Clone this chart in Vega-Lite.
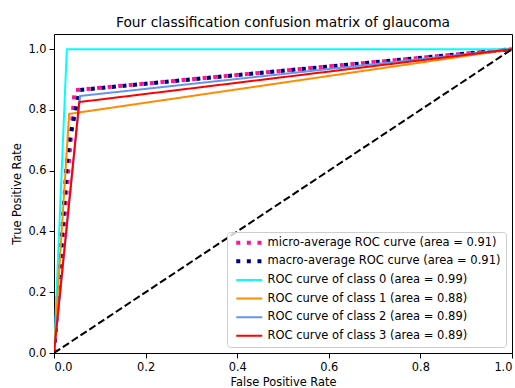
{
  "$schema": "https://vega.github.io/schema/vega-lite/v6.json",
  "width": 458,
  "height": 319,
  "autosize": "none",
  "padding": {"left": 54, "top": 34, "right": 3, "bottom": 35},
  "title": {"text": "Four classification confusion matrix of glaucoma", "fontSize": 13.8, "font": "DejaVu Sans", "fontWeight": "normal", "color": "black", "offset": 4, "anchor": "middle"},
  "config": {
    "view": {"stroke": "black", "strokeWidth": 1},
    "axis": {"domain": false, "grid": false, "tickColor": "black", "tickSize": 5, "tickWidth": 1, "labelFont": "DejaVu Sans", "labelFontSize": 11.4, "labelColor": "black", "labelPadding": 3, "titleFont": "DejaVu Sans", "titleFontSize": 11.4, "titleFontWeight": "normal", "titleColor": "black"},
    "legend": {"labelFont": "DejaVu Sans", "labelFontSize": 11.5, "labelColor": "black", "labelLimit": 400}
  },
  "data": {"values": [
    {"series": "micro-average ROC curve (area = 0.91)", "fpr": 0, "tpr": 0},
    {"series": "micro-average ROC curve (area = 0.91)", "fpr": 0.045, "tpr": 0.865},
    {"series": "micro-average ROC curve (area = 0.91)", "fpr": 1, "tpr": 1},
    {"series": "macro-average ROC curve (area = 0.91)", "fpr": 0, "tpr": 0},
    {"series": "macro-average ROC curve (area = 0.91)", "fpr": 0.028, "tpr": 0.626},
    {"series": "macro-average ROC curve (area = 0.91)", "fpr": 0.033, "tpr": 0.693},
    {"series": "macro-average ROC curve (area = 0.91)", "fpr": 0.055, "tpr": 0.859},
    {"series": "macro-average ROC curve (area = 0.91)", "fpr": 0.057, "tpr": 0.866},
    {"series": "macro-average ROC curve (area = 0.91)", "fpr": 1, "tpr": 1},
    {"series": "ROC curve of class 0 (area = 0.99)", "fpr": 0, "tpr": 0},
    {"series": "ROC curve of class 0 (area = 0.99)", "fpr": 0.028, "tpr": 1},
    {"series": "ROC curve of class 0 (area = 0.99)", "fpr": 1, "tpr": 1},
    {"series": "ROC curve of class 1 (area = 0.88)", "fpr": 0, "tpr": 0},
    {"series": "ROC curve of class 1 (area = 0.88)", "fpr": 0.033, "tpr": 0.787},
    {"series": "ROC curve of class 1 (area = 0.88)", "fpr": 1, "tpr": 1},
    {"series": "ROC curve of class 2 (area = 0.89)", "fpr": 0, "tpr": 0},
    {"series": "ROC curve of class 2 (area = 0.89)", "fpr": 0.057, "tpr": 0.846},
    {"series": "ROC curve of class 2 (area = 0.89)", "fpr": 1, "tpr": 1},
    {"series": "ROC curve of class 3 (area = 0.89)", "fpr": 0, "tpr": 0},
    {"series": "ROC curve of class 3 (area = 0.89)", "fpr": 0.055, "tpr": 0.826},
    {"series": "ROC curve of class 3 (area = 0.89)", "fpr": 1, "tpr": 1}
  ]},
  "encoding": {
    "x": {"field": "fpr", "type": "quantitative", "scale": {"domain": [0, 1], "nice": false}, "axis": {"values": [0, 0.2, 0.4, 0.6, 0.8, 1], "format": ".1f", "title": "False Positive Rate", "titlePadding": 4}},
    "y": {"field": "tpr", "type": "quantitative", "scale": {"domain": [0, 1.05], "nice": false}, "axis": {"values": [0, 0.2, 0.4, 0.6, 0.8, 1], "format": ".1f", "title": "True Positive Rate", "titlePadding": 5}}
  },
  "layer": [
    {
      "mark": {"type": "line", "strokeCap": "butt", "clip": true},
      "encoding": {
        "color": {"field": "series", "type": "nominal", "sort": null,
          "scale": {"domain": ["micro-average ROC curve (area = 0.91)", "macro-average ROC curve (area = 0.91)", "ROC curve of class 0 (area = 0.99)", "ROC curve of class 1 (area = 0.88)", "ROC curve of class 2 (area = 0.89)", "ROC curve of class 3 (area = 0.89)"], "range": ["#ff1493", "#000080", "#00ffff", "#ff8c00", "#6495ed", "#ff0000"]},
          "legend": {"title": null, "orient": "bottom-right", "offset": 6, "padding": 5, "fillColor": "rgba(255,255,255,0.8)", "strokeColor": "#cccccc", "cornerRadius": 3, "labelFont": "DejaVu Sans", "labelFontSize": 11.5, "labelColor": "black", "symbolType": "M-1,0H16.33", "symbolSize": 9, "symbolStrokeWidth": 2, "labelOffset": 24, "rowPadding": 5.6, "labelLimit": 400,
            "encode": {"symbols": {"update": {"strokeWidth": {"signal": "indexof(datum.value, 'average') >= 0 ? 4 : 2"}, "strokeJoin": {"value": "round"}}}}}},
        "strokeDash": {"field": "series", "type": "nominal", "sort": null,
          "scale": {"domain": ["micro-average ROC curve (area = 0.91)", "macro-average ROC curve (area = 0.91)", "ROC curve of class 0 (area = 0.99)", "ROC curve of class 1 (area = 0.88)", "ROC curve of class 2 (area = 0.89)", "ROC curve of class 3 (area = 0.89)"], "range": [[4, 6.6], [4, 6.6], [1, 0], [1, 0], [1, 0], [1, 0]]},
          "legend": {"title": null, "orient": "bottom-right", "offset": 6, "padding": 5, "fillColor": "rgba(255,255,255,0.8)", "strokeColor": "#cccccc", "cornerRadius": 3, "labelFont": "DejaVu Sans", "labelFontSize": 11.5, "labelColor": "black", "symbolType": "M-1,0H16.33", "symbolSize": 9, "symbolStrokeWidth": 2, "labelOffset": 24, "rowPadding": 5.6, "labelLimit": 400,
            "encode": {"symbols": {"update": {"strokeWidth": {"signal": "indexof(datum.value, 'average') >= 0 ? 4 : 2"}, "strokeJoin": {"value": "round"}}}}}},
        "strokeWidth": {"field": "series", "type": "nominal", "sort": null, "legend": null,
          "scale": {"type": "ordinal", "domain": ["micro-average ROC curve (area = 0.91)", "macro-average ROC curve (area = 0.91)", "ROC curve of class 0 (area = 0.99)", "ROC curve of class 1 (area = 0.88)", "ROC curve of class 2 (area = 0.89)", "ROC curve of class 3 (area = 0.89)"], "range": [4, 4, 2, 2, 2, 2]}}
      }
    },
    {
      "data": {"values": [{"fpr": 0, "tpr": 0}, {"fpr": 1, "tpr": 1}]},
      "mark": {"type": "line", "color": "black", "strokeWidth": 2, "strokeDash": [7.4, 3.2], "clip": true},
      "encoding": {}
    }
  ]
}
